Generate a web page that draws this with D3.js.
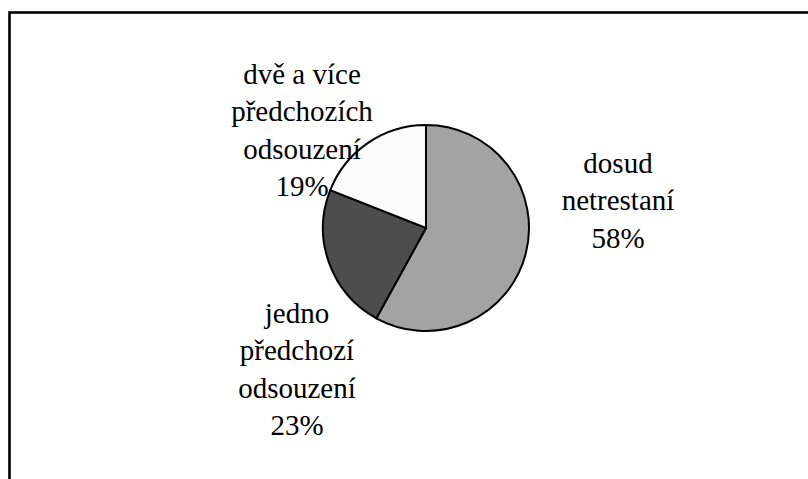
<!DOCTYPE html>
<html>
<head>
<meta charset="utf-8">
<script src="https://cdn.jsdelivr.net/npm/d3@7"></script>
<style>
  body { margin: 0; background: #fff; }
  .lbl { font-family: "Times New Roman", "Liberation Serif", Tinos, serif !important; font-size: 29px; }
</style>
</head>
<body>
<div id="chart"></div>
<script>
// data
const labelLines = [
  ["dosud", "netrestaní"],
  ["jedno", "předchozí", "odsouzení"],
  ["dvě a více", "předchozích", "odsouzení"]
];
const values = [58, 23, 19];
const colors = ["#a3a3a3", "#4d4d4d", "#fbfbfb"];

const W = 808, H = 479;
const cx = 426, cy = 228, radius = 103;
// label block placement relative to pie centre (centre x, first baseline)
const labelOffset = [[192, -55], [-129, 95], [-124, -144]];
const lineHeight = 37.3;

const svg = d3.select("#chart").append("svg").attr("width", W).attr("height", H);

// chart area frame (right and bottom edges fall outside the picture)
svg.append("rect")
  .attr("x", 9.5)
  .attr("y", 12.5)
  .attr("width", 900)
  .attr("height", 600)
  .attr("fill", "none")
  .attr("stroke", "#000")
  .attr("stroke-width", 2.6);

const pie = d3.pie().sort(null).value((d) => d);
const arc = d3.arc().innerRadius(0).outerRadius(radius);

svg.append("g")
  .attr("transform", `translate(${cx},${cy})`)
  .selectAll("path")
  .data(pie(values))
  .enter()
  .append("path")
  .attr("d", arc)
  .attr("fill", (d, i) => colors[i])
  .attr("stroke", "#000")
  .attr("stroke-width", 2);

// labels
values.forEach((v, i) => {
  const lines = labelLines[i].concat([v + "%"]);
  lines.forEach((line, j) => {
    svg.append("text")
      .attr("class", "lbl")
      .attr("x", cx + labelOffset[i][0])
      .attr("y", cy + labelOffset[i][1] + j * lineHeight)
      .attr("text-anchor", "middle")
      .style("font-family", '"Times New Roman"')
      .text(line);
  });
});
</script>
</body>
</html>
